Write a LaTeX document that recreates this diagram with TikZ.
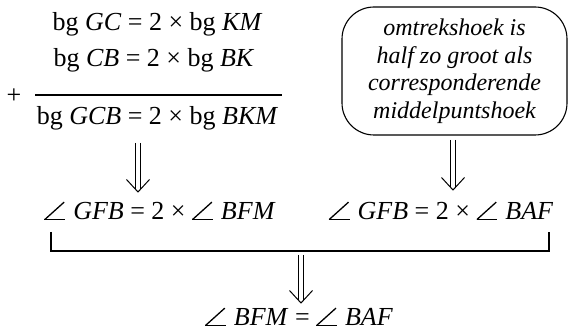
\documentclass[tikz,border=0pt]{standalone}
\usepackage{fontspec}
\setmainfont{Liberation Serif}
\newcommand{\ang}{\rlap{\rotatebox{42}{\rule{1em}{0.05em}}}\rule{0.8em}{0.05em}\kern0.06em}
\usetikzlibrary{calc}
\newcommand\dnarrow[2]{%
  \draw[arr] ($(#1)+(-2.6,0)$) -- ($(#2)+(-2.6,-2.8)$);
  \draw[arr] ($(#1)+(2.6,0)$) -- ($(#2)+(2.6,-2.8)$);
  \draw[arr] ($(#2)+(-11.5,-12.5)$) -- (#2) -- ($(#2)+(11.5,-12.5)$);
}
\begin{document}
\begin{tikzpicture}[x=1pt,y=-1pt,
  txt/.style={font=\fontsize{26}{30}\selectfont, anchor=base, inner sep=0pt},
  bub/.style={draw, line width=1.1pt, rounded corners=32pt, minimum width=225pt, minimum height=128pt, align=center, font=\fontsize{24}{27.5}\selectfont\itshape},
  arr/.style={line width=1pt},
  heavy/.style={line width=2.2pt}]
\useasboundingbox (0,0) rectangle (568,331);

\node[txt] (l1) at (157.5,31) {bg \textit{GC} = 2 × bg \textit{KM}};
\node[txt] (l2) at (154,67) {bg \textit{CB} = 2 × bg \textit{BK}};
\node[txt] (plus) at (14,103.5) {+};
\coordinate (f1) at (35,95);
\coordinate (f2) at (282,95);
\draw[heavy] (f1) -- (f2);
\node[txt] (l3) at (157.5,125) {bg \textit{GCB} = 2 × bg \textit{BKM}};

\node[bub] (bub) at (454.5,71) {omtrekshoek is\\half zo groot als\\corresponderende\\middelpuntshoek};

\node[txt] (l4) at (160,220) {\ang\ \textit{GFB} = 2 × \ang\ \textit{BFM}};
\node[txt] (l5) at (441,220) {\ang\ \textit{GFB} = 2 × \ang\ \textit{BAF}};
\node[txt] (l6) at (299,326) {\ang\ \textit{BFM} = \ang\ \textit{BAF}};

\coordinate (a1s) at (138,143); \coordinate (a1e) at (138,192);
\coordinate (a2s) at (453,140); \coordinate (a2e) at (453,190);
\coordinate (a3s) at (301,255); \coordinate (a3e) at (301,303);
\dnarrow{a1s}{a1e}
\dnarrow{a2s}{a2e}
\dnarrow{a3s}{a3e}

\coordinate (b1) at (51,232);
\coordinate (b2) at (549,232);
\draw[heavy] (b1) -- (51,251) -- (549,251) -- (b2);
\end{tikzpicture}
\end{document}
